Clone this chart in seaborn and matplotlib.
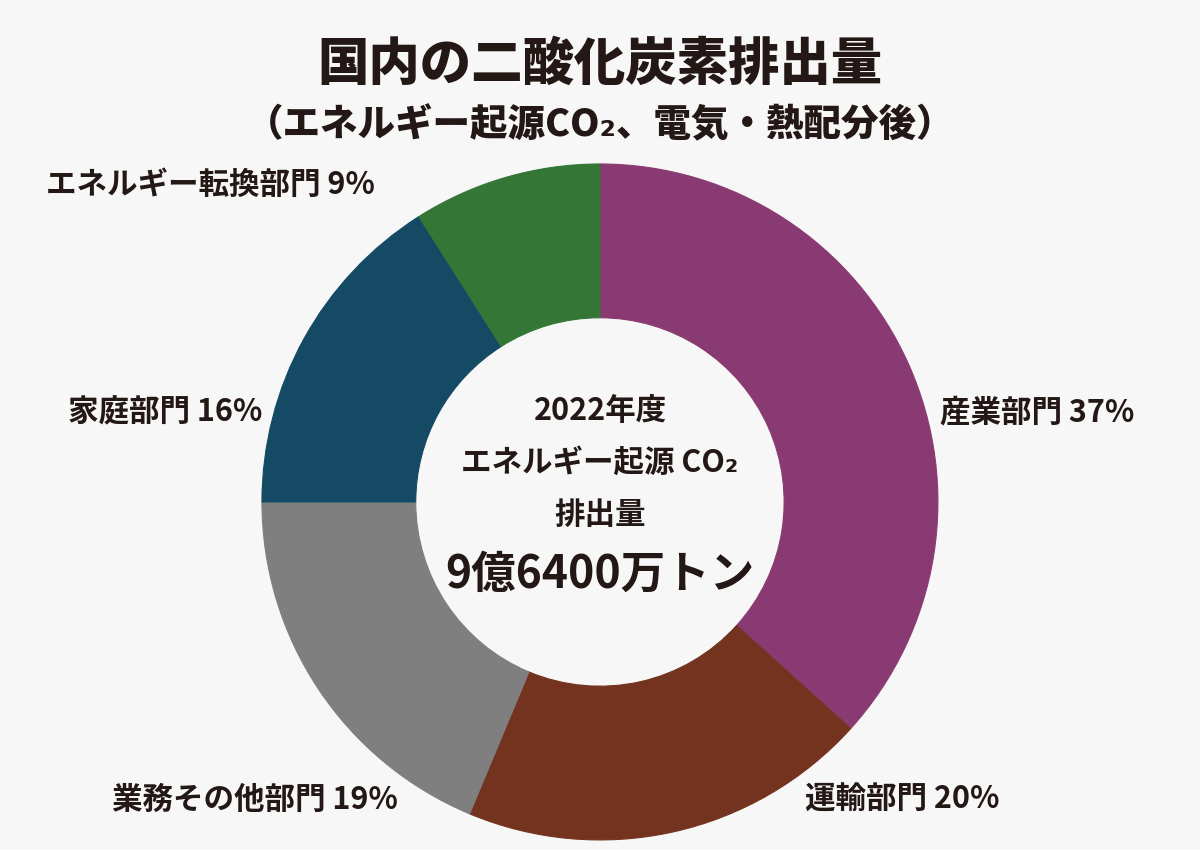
import matplotlib
matplotlib.use('Agg')
import matplotlib.pyplot as plt
import seaborn as sns

# Dados (parcelas, ordem horária a partir do topo)
setores = ['産業部門', '運輸部門', '業務その他部門', '家庭部門', 'エネルギー転換部門']
parcelas = [36.7, 19.6, 18.7, 16.0, 9.0]
rotulos_pct = [37, 20, 19, 16, 9]
cores = ['#8A3A72', '#74331F', '#7F7F7F', '#144A64', '#347635']

titulo = '国内の二酸化炭素排出量'
subtitulo = '（エネルギー起源CO₂、電気・熱配分後）'
centro_linhas = ['2022年度', 'エネルギー起源 CO₂', '排出量']
centro_total = '9億6400万トン'

# Estilo
sns.set_theme(style='white')
plt.rcParams['font.family'] = ['Noto Sans CJK JP', 'DejaVu Sans']
fundo = '#F7F7F7'
tinta = '#231815'

fig = plt.figure(figsize=(12, 8.5), dpi=100, facecolor=fundo)
ax = fig.add_axes([0.2183, 0.0118, 0.5633, 0.7953])
ax.set_facecolor(fundo)

wedges, _ = ax.pie(parcelas, colors=cores, startangle=90, counterclock=False,
                   radius=1.0,
                   wedgeprops={'width': 0.455, 'linewidth': 0.8, 'edgecolor': None})
for w, c in zip(wedges, cores):
    w.set_edgecolor(c)
ax.set_xlim(-1, 1)
ax.set_ylim(-1, 1)
ax.set_aspect('equal')
ax.axis('off')

# Rótulos externos (posições em unidades do raio)
posicoes = [
    (1.006, 0.266, 'left'),
    (0.607, -0.882, 'left'),
    (-0.598, -0.882, 'right'),
    (-1.0, 0.266, 'right'),
    (-0.666, 0.938, 'right'),
]
for nome, pct, (x, y, ha) in zip(setores, rotulos_pct, posicoes):
    ax.text(x, y, f'{nome} {pct}%', ha=ha, va='center', fontsize=22,
            fontweight='bold', color=tinta, clip_on=False)

# Texto central
ys = [0.27, 0.115, -0.04]
for linha, y in zip(centro_linhas, ys):
    ax.text(0.0, y, linha, ha='center', va='center', fontsize=22,
            fontweight='bold', color=tinta)
ax.text(0.0, -0.215, centro_total, ha='center', va='center', fontsize=32,
        fontweight='bold', color=tinta)

# Títulos
fig.text(0.5, 1 - 65 / 850, titulo, ha='center', va='center', fontsize=37,
         fontweight='black', color=tinta)
fig.text(0.5, 1 - 125 / 850, subtitulo, ha='center', va='center', fontsize=27,
         fontweight='black', color=tinta)

plt.savefig('out.png', dpi=100, facecolor=fundo)
plt.close()
